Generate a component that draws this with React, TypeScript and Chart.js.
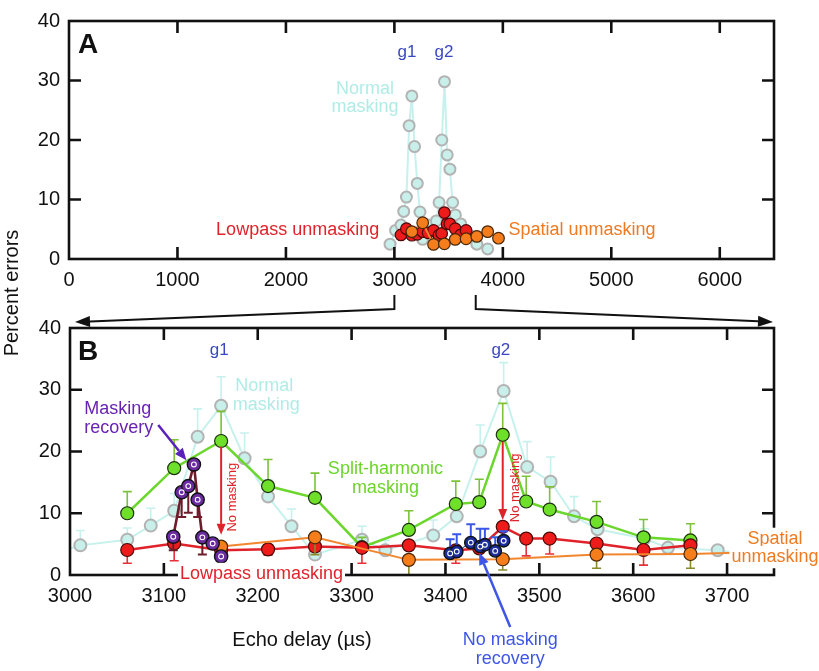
import React, { useEffect, useRef } from "react";
import { Chart, registerables } from "chart.js";

Chart.register(...registerables);

const FONT = "'Liberation Sans', Arial, Helvetica, sans-serif";

// ---------- tick labels ----------
const xTicksA = [0, 1000, 2000, 3000, 4000, 5000, 6000];
const xTicksB = [3000, 3100, 3200, 3300, 3400, 3500, 3600, 3700];
const yTicks = [0, 10, 20, 30, 40];

// ---------- Normal masking (light cyan) ----------
const normalX = [2960, 3011, 3061, 3086, 3111, 3136, 3161, 3186, 3211, 3236, 3261, 3311, 3336, 3387, 3412, 3437, 3462, 3487, 3512, 3537, 3562, 3612, 3637, 3690, 3760, 3860];
const normalY = [2.5, 4.8, 5.7, 8.0, 10.4, 22.4, 27.4, 18.9, 12.7, 7.9, 3.3, 5.7, 4.0, 6.4, 9.5, 20.0, 29.8, 17.5, 15.1, 9.5, 7.4, 5.9, 4.4, 4.0, 2.5, 1.7];
const normalErrHi = [null, 7.2, 7.6, 10.8, 13.2, 26.9, 32.1, 23.0, 15.4, 10.7, null, 7.9, 5.6, 8.9, 11.8, 24.3, 34.4, 21.6, 19.1, 12.7, null, 7.5, 5.9, null, null, null];

// ---------- Split-harmonic masking (green) ----------
const splitX = [3061, 3111, 3161, 3211, 3261, 3311, 3361, 3411, 3436, 3461, 3486, 3511, 3561, 3611, 3661];
const splitY = [10.0, 17.3, 21.7, 14.4, 12.5, 4.5, 7.3, 11.5, 11.8, 22.7, 11.9, 10.6, 8.6, 6.1, 5.6];
const splitErrHi = [13.5, 21.9, 26.5, 18.7, 16.5, 6.1, 10.4, 15.2, 15.5, 27.8, 16.0, 14.3, 11.9, 9.0, 8.3];

// ---------- Lowpass unmasking (red) ----------
const lowX = [3061, 3111, 3161, 3211, 3261, 3311, 3361, 3411, 3436, 3461, 3486, 3511, 3561, 3611, 3661];
const lowY = [4.05, 5.1, 4.0, 4.15, 4.6, 4.4, 4.8, 4.0, 4.3, 7.8, 5.9, 5.9, 5.1, 4.05, 4.8];
const lowErrLo = [1.9, 2.3, null, 3.2, null, 1.9, null, 1.9, null, null, 3.1, 3.4, null, 1.6, null];

// ---------- Spatial unmasking (orange) ----------
const spatialX = [3161, 3261, 3361, 3461, 3561, 3661, 3760, 3860, 3960];
const spatialY = [4.6, 6.1, 2.45, 2.55, 3.3, 3.4, 3.8, 4.6, 3.5];
const spatialErrLo = [null, 3.3, 0.05, 0.8, 1.1, 1.1, null, null, null];

// ---------- Masking recovery (purple) ----------
const recovX = [3110, 3119, 3126, 3132, 3136, 3141, 3152, 3161];
const recovY = [6.2, 13.4, 14.4, 17.9, 12.2, 6.1, 5.1, 3.0];
const recovErrLo = [4.0, 9.4, 10.1, null, 9.4, 3.3, null, null];

// ---------- No masking recovery (navy) ----------
const noRecX = [3405, 3412, 3427, 3437, 3442, 3453, 3462];
const noRecY = [3.5, 3.8, 5.25, 4.6, 4.9, 3.9, 5.55];
const noRecErrHi = [5.8, 6.6, 8.2, 7.5, 7.5, 6.1, 7.1];

const pts = (xs: number[], ys: number[]) => xs.map((x, i) => ({ x, y: ys[i] }));

function drawText(ctx: CanvasRenderingContext2D, str: string, x: number, y: number, o: any) {
  ctx.save();
  ctx.font = `${o.bold ? "bold " : ""}${o.size}px ${FONT}`;
  const align = o.align || "center";
  ctx.textAlign = align;
  ctx.textBaseline = "middle";
  ctx.translate(x, y);
  if (o.rotate) ctx.rotate(o.rotate);
  if (o.bg) {
    const w = ctx.measureText(str).width;
    const left = align === "center" ? -w / 2 : align === "right" ? -w : 0;
    ctx.fillStyle = o.bg;
    ctx.fillRect(left - 2, -o.size * 0.62, w + 4, o.size * 1.24);
  }
  ctx.fillStyle = o.color;
  ctx.fillText(str, 0, 0);
  ctx.restore();
}

function drawArrow(ctx: CanvasRenderingContext2D, p: number[][], color: string, width: number, head = 12, headW = 5) {
  ctx.save();
  ctx.strokeStyle = color;
  ctx.fillStyle = color;
  ctx.lineWidth = width;
  const n = p.length;
  const [x2, y2] = p[n - 1];
  const [x1, y1] = p[n - 2];
  const ang = Math.atan2(y2 - y1, x2 - x1);
  const bx = x2 - head * Math.cos(ang);
  const by = y2 - head * Math.sin(ang);
  ctx.beginPath();
  ctx.moveTo(p[0][0], p[0][1]);
  for (let i = 1; i < n - 1; i++) ctx.lineTo(p[i][0], p[i][1]);
  ctx.lineTo(bx, by);
  ctx.stroke();
  ctx.beginPath();
  ctx.moveTo(x2, y2);
  ctx.lineTo(bx + headW * Math.sin(ang), by - headW * Math.cos(ang));
  ctx.lineTo(bx - headW * Math.sin(ang), by + headW * Math.cos(ang));
  ctx.closePath();
  ctx.fill();
  ctx.restore();
}

const errorBarPlugin = {
  id: "errorBars",
  beforeDatasetDraw(chart: any, args: any) {
    const ds = chart.data.datasets[args.index];
    if (!ds.errEnds) return;
    const { ctx, chartArea: c } = chart;
    const xs = chart.scales.x;
    const ys = chart.scales.y;
    ctx.save();
    ctx.beginPath();
    ctx.rect(c.left, c.top, c.right - c.left, c.bottom - c.top);
    ctx.clip();
    ctx.strokeStyle = ds.errColor;
    ctx.lineWidth = ds.errWidth || 1.6;
    ctx.beginPath();
    ds.data.forEach((p: any, i: number) => {
      const e = ds.errEnds[i];
      if (e == null) return;
      const x = xs.getPixelForValue(p.x);
      const y0 = ys.getPixelForValue(p.y);
      const y1 = ys.getPixelForValue(e);
      ctx.moveTo(x, y0);
      ctx.lineTo(x, y1);
      ctx.moveTo(x - 4.5, y1);
      ctx.lineTo(x + 4.5, y1);
    });
    ctx.stroke();
    ctx.restore();
  },
};

function framePlugin(xt: number[], yt: number[]) {
  return {
    id: "frame",
    afterDatasetsDraw(chart: any) {
      const { ctx, chartArea: c, scales } = chart;
      ctx.save();
      ctx.strokeStyle = "#111";
      ctx.lineWidth = 2.6;
      ctx.strokeRect(c.left, c.top, c.right - c.left, c.bottom - c.top);
      const L = 12;
      ctx.beginPath();
      xt.forEach((v) => {
        const x = scales.x.getPixelForValue(v);
        ctx.moveTo(x, c.bottom);
        ctx.lineTo(x, c.bottom - L);
        ctx.moveTo(x, c.top);
        ctx.lineTo(x, c.top + L);
      });
      yt.forEach((v) => {
        const y = scales.y.getPixelForValue(v);
        ctx.moveTo(c.left, y);
        ctx.lineTo(c.left + L, y);
        ctx.moveTo(c.right, y);
        ctx.lineTo(c.right - L, y);
      });
      ctx.stroke();
      ctx.restore();
    },
  };
}

function scalesCfg(xmin: number, xmax: number, xt: number[], yWidth: number) {
  const tickFont = { family: FONT, size: 20 };
  return {
    x: {
      type: "linear",
      min: xmin,
      max: xmax,
      afterBuildTicks: (s: any) => {
        s.ticks = xt.map((v) => ({ value: v }));
      },
      afterFit: (s: any) => {
        s.height = 40;
      },
      grid: { display: false, drawTicks: false },
      border: { display: false },
      ticks: { font: tickFont, color: "#111", padding: 9, maxRotation: 0, autoSkip: false, callback: (v: any) => String(v) },
    },
    y: {
      type: "linear",
      min: 0,
      max: 40,
      afterBuildTicks: (s: any) => {
        s.ticks = yTicks.map((v) => ({ value: v }));
      },
      afterFit: (s: any) => {
        s.width = yWidth;
      },
      grid: { display: false, drawTicks: false },
      border: { display: false },
      ticks: { font: tickFont, color: "#111", padding: 9, callback: (v: any) => String(v) },
    },
  };
}

const C = {
  normalLine: "#c6f1ed",
  normalFill: "#c8efea",
  normalBorder: "#b3b3b3",
  green: "#6bd62b",
  greenFill: "#6fe02a",
  greenErr: "#7cc23a",
  red: "#e0232a",
  redFill: "#ee1b1b",
  orange: "#f2862e",
  orangeFill: "#f57d1c",
  orangeErr: "#8a8a2a",
  maroon: "#6e1c2c",
  purple: "#6a2aa0",
  navy: "#1a2d9a",
  navyErr: "#3a58e8",
};

function normalDs(r: number, withErr: boolean) {
  return {
    data: pts(normalX, normalY),
    showLine: true,
    borderColor: C.normalLine,
    borderWidth: 2,
    pointBackgroundColor: C.normalFill,
    pointBorderColor: C.normalBorder,
    pointBorderWidth: 2,
    pointRadius: r,
    errEnds: withErr ? normalErrHi : null,
    errColor: C.normalLine,
    order: 10,
    clip: 0,
  };
}
function lowDs(r: number, withErr: boolean) {
  return {
    data: pts(lowX, lowY),
    showLine: true,
    borderColor: C.red,
    borderWidth: 2.5,
    pointBackgroundColor: C.redFill,
    pointBorderColor: "#4a0a0a",
    pointBorderWidth: 1.2,
    pointRadius: r,
    errEnds: withErr ? lowErrLo : null,
    errColor: "#e8303a",
    order: 8,
    clip: 0,
  };
}
function spatialDs(r: number, withErr: boolean) {
  return {
    data: pts(spatialX, spatialY),
    showLine: true,
    borderColor: C.orange,
    borderWidth: 2,
    pointBackgroundColor: C.orangeFill,
    pointBorderColor: "#4a2808",
    pointBorderWidth: 1.2,
    pointRadius: r,
    errEnds: withErr ? spatialErrLo : null,
    errColor: C.orangeErr,
    order: 7,
    clip: 0,
  };
}

const configA: any = {
  type: "scatter",
  data: {
    datasets: [normalDs(5.5, false), lowDs(5.8, false), spatialDs(5.8, false)],
  },
  options: {
    animation: false,
    responsive: false,
    events: [],
    layout: { autoPadding: false, padding: { left: 0, top: 11, right: 45, bottom: 372 } },
    plugins: { legend: { display: false }, tooltip: { enabled: false } },
    scales: scalesCfg(0, 6500, xTicksA, 69),
  },
  plugins: [
    framePlugin([1000, 2000, 3000, 4000, 5000, 6000], [10, 20, 30]),
    {
      id: "annotA",
      afterDraw(chart: any) {
        const { ctx, chartArea: c } = chart;
        const px = (v: number) => chart.scales.x.getPixelForValue(v);
        const py = (v: number) => chart.scales.y.getPixelForValue(v);
        drawText(ctx, "A", c.left + 19, c.top + 24, { color: "#111", size: 28, bold: true });
        drawText(ctx, "g1", px(3116), py(34.7), { color: "#3a48c0", size: 17 });
        drawText(ctx, "g2", px(3457), py(34.7), { color: "#3a48c0", size: 17 });
        drawText(ctx, "Normal", px(2729), py(28.5), { color: "#b0ece6", size: 18 });
        drawText(ctx, "masking", px(2729), py(25.6), { color: "#b0ece6", size: 18 });
        drawText(ctx, "Lowpass unmasking", px(2860), py(4.9), { color: C.red, size: 18, align: "right" });
        drawText(ctx, "Spatial unmasking", px(4730), py(4.9), { color: "#ee7a22", size: 18 });
      },
    },
  ],
};

function configB(chartA: any): any {
  const inner = (xs: number[], ys: number[], color: string) => ({
    data: pts(xs, ys),
    showLine: false,
    pointBackgroundColor: color,
    pointBorderColor: "#ffffff",
    pointBorderWidth: 1.1,
    pointRadius: 2.4,
    order: 0,
    clip: 0,
  });
  return {
    type: "scatter",
    data: {
      datasets: [
        normalDs(6, true),
        {
          data: pts(splitX, splitY),
          showLine: true,
          borderColor: C.green,
          borderWidth: 2.5,
          pointBackgroundColor: C.greenFill,
          pointBorderColor: "#1c3010",
          pointBorderWidth: 1.2,
          pointRadius: 6.5,
          errEnds: splitErrHi,
          errColor: C.greenErr,
          order: 9,
          clip: 0,
        },
        lowDs(6.5, true),
        spatialDs(6.5, true),
        {
          data: pts(recovX, recovY),
          showLine: true,
          borderColor: C.maroon,
          borderWidth: 2.6,
          pointBackgroundColor: C.purple,
          pointBorderColor: "#111",
          pointBorderWidth: 1.4,
          pointRadius: 6.6,
          errEnds: recovErrLo,
          errColor: C.maroon,
          errWidth: 2,
          order: 5,
          clip: 0,
        },
        {
          data: pts(noRecX, noRecY),
          showLine: true,
          borderColor: "#1a2a8a",
          borderWidth: 1,
          pointBackgroundColor: C.navy,
          pointBorderColor: "#111",
          pointBorderWidth: 1.4,
          pointRadius: 6.2,
          errEnds: noRecErrHi,
          errColor: C.navyErr,
          errWidth: 2,
          order: 4,
          clip: 0,
        },
        inner(recovX, recovY, C.purple),
        inner(noRecX, noRecY, C.navy),
      ],
    },
    options: {
      animation: false,
      responsive: false,
      events: [],
      layout: { autoPadding: false, padding: { left: 0, top: 328, right: 45, bottom: 56 } },
      plugins: { legend: { display: false }, tooltip: { enabled: false } },
      scales: scalesCfg(3000, 3750, xTicksB, 70),
    },
    plugins: [
      errorBarPlugin,
      framePlugin([3100, 3200, 3300, 3400, 3500, 3600, 3700], [10, 20, 30]),
      {
        id: "annotB",
        afterDraw(chart: any) {
          const { ctx, chartArea: c } = chart;
          const px = (v: number) => chart.scales.x.getPixelForValue(v);
          const py = (v: number) => chart.scales.y.getPixelForValue(v);
          drawText(ctx, "B", c.left + 18, c.top + 24, { color: "#111", size: 28, bold: true });
          drawText(ctx, "g1", px(3159), py(36.4), { color: "#3a48c0", size: 17 });
          drawText(ctx, "g2", px(3459), py(36.4), { color: "#3a48c0", size: 17 });
          drawText(ctx, "Normal", px(3207), py(30.6), { color: "#b0ece6", size: 18 });
          drawText(ctx, "masking", px(3209), py(27.5), { color: "#b0ece6", size: 18 });
          drawText(ctx, "Masking", px(3051), py(26.9), { color: "#6a22b0", size: 18 });
          drawText(ctx, "recovery", px(3052), py(23.8), { color: "#6a22b0", size: 18 });
          drawArrow(ctx, [[px(3094), py(24.3)], [px(3124), py(18.6)]], "#5a22b8", 2.5, 12, 5);
          drawText(ctx, "Split-harmonic", px(3336), py(17.2), { color: "#6cd42a", size: 18 });
          drawText(ctx, "masking", px(3336), py(14.1), { color: "#6cd42a", size: 18 });
          // No masking arrows
          drawArrow(ctx, [[px(3161), py(20.8)], [px(3161), py(6.5)]], C.red, 2, 11, 4.5);
          drawArrow(ctx, [[px(3461), py(21.6)], [px(3461), py(8.9)]], C.red, 2, 11, 4.5);
          drawText(ctx, "No masking", px(3173), py(12.6), { color: C.red, size: 13, rotate: -Math.PI / 2 });
          drawText(ctx, "No masking", px(3474), py(14.1), { color: C.red, size: 13, rotate: -Math.PI / 2 });
          drawText(ctx, "Lowpass unmasking", px(3204), py(0) - 1, { color: C.red, size: 18, bg: "#ffffff" });
          drawText(ctx, "Spatial", px(3751), py(5.85), { color: "#ee7a22", size: 18, bg: "#ffffff" });
          drawText(ctx, "unmasking", px(3751), py(2.9), { color: "#ee7a22", size: 18, bg: "#ffffff" });
          drawArrow(ctx, [[px(3469), c.bottom + 52], [px(3436), py(3.6)]], "#3f55e6", 2.5, 12, 5);
          drawText(ctx, "No masking", px(3469), c.bottom + 65, { color: "#3f55e6", size: 18 });
          drawText(ctx, "recovery", px(3469), c.bottom + 84, { color: "#3f55e6", size: 18 });
          drawText(ctx, "Echo delay (\u00b5s)", 302, c.bottom + 65, { color: "#111", size: 20 });
          drawText(ctx, "Percent errors", 12, 293, { color: "#111", size: 20, rotate: -Math.PI / 2 });
          // connectors from panel A to panel B
          if (chartA) {
            const ab = chartA.chartArea.bottom;
            const xa1 = chartA.scales.x.getPixelForValue(3000);
            const xa2 = chartA.scales.x.getPixelForValue(3750);
            drawArrow(ctx, [[xa1, ab + 36], [xa1, ab + 50], [c.left + 5, c.top - 6]], "#111", 2, 15, 5.5);
            drawArrow(ctx, [[xa2, ab + 36], [xa2, ab + 50], [c.right - 1, c.top - 6]], "#111", 2, 15, 5.5);
          }
        },
      },
    ],
  };
}

export default function App() {
  const refA = useRef<HTMLCanvasElement>(null);
  const refB = useRef<HTMLCanvasElement>(null);
  useEffect(() => {
    const a = new Chart(refA.current as HTMLCanvasElement, configA);
    const b = new Chart(refB.current as HTMLCanvasElement, configB(a));
    return () => {
      a.destroy();
      b.destroy();
    };
  }, []);
  return (
    <div style={{ position: "absolute", left: 0, top: 0, width: 819, height: 671, background: "#ffffff" }}>
      <canvas ref={refA} width={819} height={671} style={{ position: "absolute", left: 0, top: 0 }} />
      <canvas ref={refB} width={819} height={671} style={{ position: "absolute", left: 0, top: 0 }} />
    </div>
  );
}
